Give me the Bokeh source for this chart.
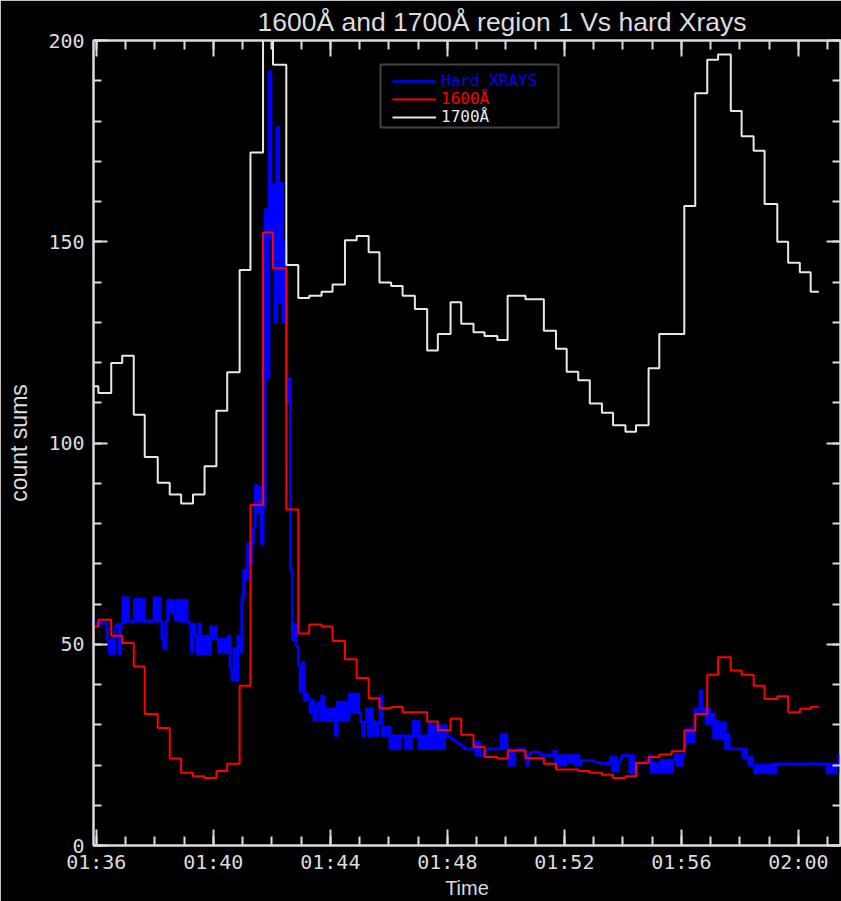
from bokeh.plotting import figure
from bokeh.models import (FixedTicker, LinearAxis, Legend, LegendItem, BoxAnnotation,
                          Range1d, CustomLabelingPolicy)
from bokeh.embed import file_html
from bokeh.resources import INLINE

# ---------------- data ----------------
TITLE = "1600Å and 1700Å region 1 Vs hard Xrays"
X_LABEL = "Time"
Y_LABEL = "count sums"
TICK_MINUTES = [0, 4, 8, 12, 16, 20, 24]          # minutes after 01:36
TICK_LABELS = ["01:36", "01:40", "01:44", "01:48", "01:52", "01:56", "02:00"]
Y_TICKS = [0, 50, 100, 150, 200]
X_START, X_END = -0.096, 25.44                    # minutes after 01:36

# AIA frame start times (minutes after 01:36)
t_aia = [-0.11, 0.07, 0.51, 0.885, 1.28, 1.655, 2.10, 2.51, 2.90, 3.305,
         3.70, 4.105, 4.475, 4.90, 5.27, 5.70, 6.04, 6.495, 6.905, 7.28,
         7.70, 8.075, 8.50, 8.90, 9.31, 9.68, 10.08, 10.47, 10.89, 11.31,
         11.675, 12.11, 12.475, 12.895, 13.27, 13.71, 14.06, 14.67, 15.30, 15.715,
         16.08, 16.475, 16.87, 17.285, 17.665, 18.09, 18.45, 18.88, 19.245, 19.665,
         20.10, 20.475, 20.885, 21.255, 21.69, 22.06, 22.47, 22.845, 23.28, 23.65,
         24.05, 24.42]
t_aia_end = 24.70

aia_1600 = [54.4, 56.1, 52.1, 50.3, 44.5, 32.7, 29.2, 21.6, 18.1, 17.2,
            16.8, 18.5, 20.3, 39.7, 84.6, 152.3, 143.4, 83.5, 52.7, 54.9,
            54.4, 50.8, 46.3, 41.6, 36.6, 34.1, 34.4, 33.1, 33.1, 30.8,
            28.7, 31.5, 27.5, 24.5, 22.0, 21.6, 23.6, 21.7, 20.3, 18.9,
            18.9, 18.5, 18.1, 17.6, 16.8, 17.2, 20.5, 22.0, 22.6, 23.4,
            28.6, 32.7, 42.4, 46.8, 43.5, 42.4, 39.7, 36.4, 37.1, 33.1,
            34.0, 34.5]

aia_1700 = [114.1, 112.4, 119.9, 121.7, 107.0, 96.5, 90.1, 87.2, 85.0, 87.2,
            94.2, 108.0, 117.6, 143.0, 172.2, 215.0, 194.0, 144.2, 136.0, 136.6,
            137.6, 139.4, 150.4, 151.4, 147.4, 139.9, 139.0, 136.6, 133.3, 123.0,
            127.1, 135.0, 129.6, 127.5, 126.6, 125.6, 136.6, 135.7, 127.9, 123.4,
            117.7, 115.6, 109.8, 107.5, 104.4, 102.8, 104.4, 118.6, 127.1, 127.1,
            158.9, 186.9, 195.2, 196.5, 182.5, 176.2, 172.6, 159.4, 150.0, 144.8,
            142.4, 137.6]

# hard X-ray counts, 4 s cadence starting at HX_START
HX_START = -0.096
HX_CADENCE = 4.0 / 60.0
hard_xrays = [
    55.2, 55.2, 55.2, 55.2, 55.2, 55.2, 55.2, 51, 47.6, 51.3,
    47.6, 54.5, 55, 47.6, 55, 61.6, 55.5, 61.6, 55.7, 55.7,
    55.7, 61.2, 55.7, 61.2, 55.7, 61.2, 55.7, 55.7, 55.7, 55.7,
    55.7, 61.6, 55.7, 61.6, 55.7, 51.3, 48.8, 55.7, 61, 58,
    61, 57.5, 56, 61, 55.7, 61, 55.7, 61, 55.7, 55,
    48, 55, 52, 47.6, 55, 47.6, 52, 47.6, 52, 47.6,
    54.4, 51.3, 54.4, 51.3, 48, 51.3, 48, 51.3, 48, 52,
    44, 41, 49, 41, 52, 48, 61.5, 68.4, 66, 75,
    70, 75, 79, 89.5, 82.7, 89, 75, 84, 158, 116,
    192.3, 151, 164, 130, 178.4, 135, 164.6, 130, 150, 110,
    116, 68.5, 51, 55, 49.6, 44.6, 38.2, 45.5, 36, 37.7,
    36.4, 33, 36, 31, 34, 35.5, 31, 37.2, 31, 34,
    31, 34, 31, 34, 27.3, 35.7, 31, 35.7, 31, 35.7,
    31, 37.7, 33, 37.7, 33, 37.7, 33, 30.7, 27.3, 30.7,
    34, 27.3, 34, 27.3, 30.7, 27.3, 30.7, 37.2, 27.3, 29.5,
    27.3, 29.5, 24, 27.3, 24, 27.3, 24, 27.3, 27.3, 27.3,
    24, 27.3, 24, 27.3, 31, 27, 31, 24, 27.3, 24,
    27.3, 24, 30.5, 24, 29.8, 24, 29.8, 24, 29.8, 24,
    29.8, 27.3, 27, 26.7, 26.3, 26, 25.6, 25.3, 25, 24.6,
    24, 24, 24, 24, 24, 25.8, 22.4, 25.8, 22.4, 22.4,
    22.4, 24, 24, 24, 24, 24, 24, 24, 24, 27.7,
    24, 27.7, 24, 19.9, 23.6, 19.9, 23.6, 24, 24, 24,
    24, 22.4, 19.9, 22.4, 23.2, 23.2, 23.2, 23.2, 23.2, 22.4,
    22.4, 22.4, 22.4, 22.4, 22.4, 22.4, 23.6, 19.9, 22.4, 19.9,
    22.4, 19.9, 22.4, 20.6, 22.4, 20.6, 22.4, 19.9, 22.4, 19.9,
    21.1, 21.1, 21.1, 21.1, 21.1, 21.1, 21.1, 20.6, 20.6, 20.6,
    20.4, 20.4, 20.4, 20.4, 20.4, 22, 18.5, 22, 18.5, 20.5,
    21.5, 22.4, 22.4, 22.4, 22.4, 18, 22.4, 18, 20.4, 20.4,
    20.4, 20.6, 20.8, 21, 21.2, 22.4, 18.2, 20.4, 18.2, 20.4,
    18.2, 21.2, 18.2, 21.2, 18.2, 21.2, 18.2, 21.2, 22.4, 19.9,
    22.4, 19.9, 22.4, 25, 29, 25.8, 29, 25.8, 34, 32.7,
    34, 38.5, 32.7, 34, 30.2, 34, 30.2, 32.7, 26.6, 31,
    26.6, 30.5, 26.6, 30.5, 24, 27.7, 24, 24, 24, 24,
    24, 24, 24, 21.8, 24, 21.8, 19.9, 22, 19.9, 18,
    20, 18, 20, 18.3, 19.9, 18.3, 19.9, 18, 20.3, 18,
    20.3, 20.3, 20.3, 20.3, 20.3, 20.3, 20.3, 20.3, 20.3, 20.3,
    20.3, 20.3, 20.3, 20.3, 20.3, 20.3, 20.3, 20.3, 20.3, 20.3,
    20.3, 20.3, 20.3, 20.3, 20.3, 20.3, 18, 20.3, 18, 20.3,
    18, 20.3, 22.4, 18, 22.4,
]

# ---------------- styles ----------------
FG = "#dcdcdc"
BLUE = "#0000ff"
RED = "#ff0000"
WHITE = "#e8e8e8"
TICK_FONT = "DejaVu Sans Mono"
TEXT_FONT = "Liberation Sans"

x_aia = t_aia + [t_aia_end]
y1600 = aia_1600 + [aia_1600[-1]]
y1700 = aia_1700 + [aia_1700[-1]]
t_hx = [HX_START + i * HX_CADENCE for i in range(len(hard_xrays))]

p = figure(width=841, height=901,
           x_range=Range1d(X_START, X_END), y_range=Range1d(0, 200),
           output_backend="svg", toolbar_location=None,
           background_fill_color="black", border_fill_color="black",
           min_border_left=93, min_border_right=1, min_border_top=40, min_border_bottom=54,
           title=TITLE)
p.grid.visible = False
p.outline_line_color = FG
p.outline_line_width = 2

p.title.text_font = TEXT_FONT
p.title.text_font_size = "26.5px"
p.title.text_font_style = "normal"
p.title.text_color = FG
p.title.align = "left"
p.title.offset = 164
p.title.standoff = 8

x_ticker = FixedTicker(ticks=TICK_MINUTES, minor_ticks=list(range(0, 26)))
y_ticker = FixedTicker(ticks=Y_TICKS, minor_ticks=list(range(0, 201, 10)))


def style_axis(ax, major_in, minor_in):
    ax.axis_line_color = FG
    ax.axis_line_width = 2
    ax.major_tick_line_color = FG
    ax.major_tick_line_width = 2
    ax.minor_tick_line_color = FG
    ax.minor_tick_line_width = 2
    ax.major_tick_in = major_in
    ax.major_tick_out = 0
    ax.minor_tick_in = minor_in
    ax.minor_tick_out = 0
    ax.major_label_text_color = FG
    ax.major_label_text_font = TICK_FONT
    ax.major_label_text_font_size = "20px"


xb = p.xaxis[0]
xb.ticker = x_ticker
xb.major_label_overrides = {m: lab for m, lab in zip(TICK_MINUTES, TICK_LABELS)}
style_axis(xb, 16, 9)
xb.major_label_standoff = 4
xb.axis_label = X_LABEL
xb.axis_label_text_font = TEXT_FONT
xb.axis_label_text_font_size = "20px"
xb.axis_label_text_font_style = "normal"
xb.axis_label_text_color = FG
xb.axis_label_standoff = 0

yl = p.yaxis[0]
yl.ticker = y_ticker
style_axis(yl, 14, 8)
yl.major_label_standoff = 9
yl.axis_label = Y_LABEL
yl.axis_label_text_font = TEXT_FONT
yl.axis_label_text_font_size = "23px"
yl.axis_label_text_font_style = "normal"
yl.axis_label_text_color = FG
yl.axis_label_standoff = 13

# top and right frame axes: ticks only, no labels drawn
for side, ticker, mj, mn in (("above", x_ticker, 16, 9), ("right", y_ticker, 14, 8)):
    ax = LinearAxis(ticker=ticker)
    style_axis(ax, mj, mn)
    ax.major_label_text_font_size = "0px"
    ax.major_label_standoff = 0
    ax.major_label_policy = CustomLabelingPolicy(code="return []")
    p.add_layout(ax, side)

r_hx = p.step(t_hx, hard_xrays, mode="after", line_color=BLUE, line_width=2.7)
r_1600 = p.step(x_aia, y1600, mode="after", line_color=RED, line_width=2)
r_1700 = p.step(x_aia, y1700, mode="after", line_color=WHITE, line_width=2)

legend_specs = [("Hard XRAYS", r_hx, BLUE, 755),
                ("1600Å", r_1600, RED, 737),
                ("1700Å", r_1700, WHITE, 719)]
for label, rend, col, vy in legend_specs:
    lg = Legend(items=[LegendItem(label=label, renderers=[rend])],
                location=(299, vy), padding=0, margin=0, spacing=0,
                glyph_width=44, glyph_height=16, label_height=16,
                label_standoff=5, border_line_alpha=0, background_fill_alpha=0,
                label_text_font=TICK_FONT, label_text_font_size="16px",
                label_text_color=col)
    p.add_layout(lg)

box = BoxAnnotation(left=287, right=465, top=781, bottom=718,
                    left_units="screen", right_units="screen",
                    top_units="screen", bottom_units="screen",
                    fill_alpha=0, line_color=FG, line_width=2)
p.add_layout(box)

open("out.html", "w").write(file_html(p, INLINE))
